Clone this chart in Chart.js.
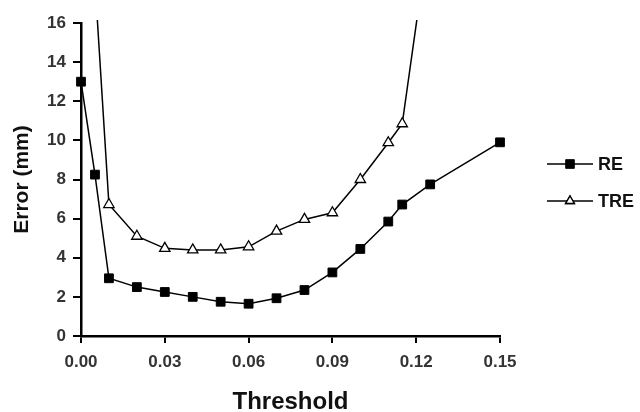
<!DOCTYPE html>
<html>
<head>
<meta charset="utf-8">
<script src="https://cdn.jsdelivr.net/npm/chart.js@4/dist/chart.umd.min.js"></script>
<style>
  html, body { margin: 0; padding: 0; background: #fff; }
  #wrap { width: 640px; height: 412px; }
</style>
</head>
<body>
<div id="wrap"><canvas id="chart" width="640" height="412"></canvas></div>
<script>
// Valores
const reThreshold = [0.00, 0.005, 0.01, 0.02, 0.03, 0.04, 0.05, 0.06, 0.07, 0.08, 0.09, 0.10, 0.11, 0.115, 0.125, 0.15];
const reError = [13.0, 8.25, 2.95, 2.5, 2.25, 2.0, 1.75, 1.65, 1.93, 2.35, 3.25, 4.45, 5.85, 6.72, 7.75, 9.9];

const treThreshold = [0.005, 0.01, 0.02, 0.03, 0.04, 0.05, 0.06, 0.07, 0.08, 0.09, 0.10, 0.11, 0.115, 0.125];
const treError = [18.1, 6.72, 5.1, 4.48, 4.4, 4.4, 4.56, 5.36, 5.96, 6.3, 8.0, 9.88, 10.85, 21.0];

const xTicks = [0.00, 0.03, 0.06, 0.09, 0.12, 0.15];
const yTicks = [0, 2, 4, 6, 8, 10, 12, 14, 16];

const FONT = "'Liberation Sans', Arial, Helvetica, sans-serif";

const toPoints = (xs, ys) => xs.map((x, i) => ({ x: x, y: ys[i] }));

// Leyenda a la derecha: linea con marcador en el centro
const legendPlugin = {
  id: 'legendaLateral',
  afterDraw(chart) {
    const ctx = chart.ctx;
    const items = chart.data.datasets;
    ctx.save();
    items.forEach((ds, i) => {
      const y = 164 + i * 37;
      ctx.strokeStyle = '#000';
      ctx.lineWidth = 1.5;
      ctx.beginPath();
      ctx.moveTo(547, y);
      ctx.lineTo(593, y);
      ctx.stroke();
      Chart.helpers.drawPoint(ctx, {
        pointStyle: ds.pointStyle,
        radius: ds.pointStyle === 'rect' ? 5.6 : 5,
        rotation: 0,
        borderWidth: ds.pointBorderWidth
      }, 570, y);
      ctx.fillStyle = ds.pointBackgroundColor;
      ctx.strokeStyle = '#000';
      ctx.lineWidth = ds.pointBorderWidth;
      ctx.fill();
      ctx.stroke();
      ctx.fillStyle = '#111';
      ctx.font = 'bold 18px ' + FONT;
      ctx.textBaseline = 'middle';
      ctx.textAlign = 'left';
      ctx.fillText(ds.label, 598, y + 1);
    });
    ctx.restore();
  }
};

new Chart(document.getElementById('chart'), {
  type: 'line',
  data: {
    datasets: [
      {
        label: 'RE',
        data: toPoints(reThreshold, reError),
        borderColor: '#000',
        borderWidth: 1.5,
        pointStyle: 'rect',
        pointRadius: 6.2,
        pointBackgroundColor: '#000',
        pointBorderColor: '#000',
        pointBorderWidth: 1,
        tension: 0,
        clip: 10
      },
      {
        label: 'TRE',
        data: toPoints(treThreshold, treError),
        borderColor: '#000',
        borderWidth: 1.5,
        pointStyle: 'triangle',
        pointRadius: 6,
        pointBackgroundColor: '#fff',
        pointBorderColor: '#000',
        pointBorderWidth: 1.3,
        tension: 0,
        clip: { left: 10, right: 10, top: 3, bottom: 10 }
      }
    ]
  },
  options: {
    responsive: false,
    animation: false,
    events: [],
    layout: { padding: { top: 23, right: 140, left: 0, bottom: 0 } },
    plugins: {
      legend: { display: false },
      tooltip: { enabled: false }
    },
    scales: {
      x: {
        type: 'linear',
        min: 0,
        max: 0.15,
        afterBuildTicks: (scale) => { scale.ticks = xTicks.map(v => ({ value: v })); },
        afterFit: (scale) => { scale.height = 76; },
        ticks: {
          callback: (v) => Number(v).toFixed(2),
          color: '#333',
          font: { family: FONT, size: 17, weight: 'bold' },
          padding: 9,
          maxRotation: 0
        },
        grid: { drawOnChartArea: false, drawTicks: true, tickLength: 7, color: '#000', lineWidth: 2 },
        border: { display: true, color: '#000', width: 2.5 },
        title: {
          display: true,
          text: 'Threshold',
          color: '#111',
          font: { family: FONT, size: 24, weight: 'bold', lineHeight: 0.8 },
          padding: { top: 0, bottom: 0 }
        }
      },
      y: {
        min: 0,
        max: 16,
        afterBuildTicks: (scale) => { scale.ticks = yTicks.map(v => ({ value: v })); },
        afterFit: (scale) => { scale.width = 81; },
        ticks: {
          color: '#333',
          font: { family: FONT, size: 17, weight: 'bold' },
          padding: 7
        },
        grid: { drawOnChartArea: false, drawTicks: true, tickLength: 8, color: '#000', lineWidth: 2 },
        border: { display: true, color: '#000', width: 2.5 },
        title: {
          display: true,
          text: 'Error (mm)',
          color: '#111',
          font: { family: FONT, size: 21, weight: 'bold', lineHeight: 1 },
          padding: { top: 12, bottom: 0 }
        }
      }
    }
  },
  plugins: [legendPlugin]
});
</script>
</body>
</html>
